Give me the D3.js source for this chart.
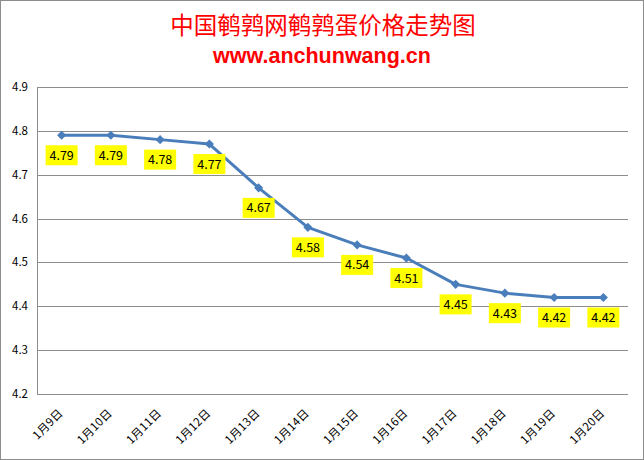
<!DOCTYPE html>
<html>
<head>
<meta charset="utf-8">
<script src="https://cdn.jsdelivr.net/npm/d3@7"></script>
<style>
  body { margin: 0; background: #fff; }
  #canvas { width: 644px; height: 460px; }
</style>
</head>
<body>
<div id="canvas"></div>
<script>
var dates = ["1月9日", "1月10日", "1月11日", "1月12日", "1月13日", "1月14日",
	"1月15日", "1月16日", "1月17日", "1月18日", "1月19日", "1月20日"];
var prices = [4.79, 4.79, 4.78, 4.77, 4.67, 4.58, 4.54, 4.51, 4.45, 4.43, 4.42, 4.42];
var yTicks = [4.2, 4.3, 4.4, 4.5, 4.6, 4.7, 4.8, 4.9];

var W = 644, H = 460;
var plotL = 37, plotR = 628, plotT = 87, plotB = 394;
var font = "'Noto Sans CJK SC', 'Liberation Sans', sans-serif";

var svg = d3.select("#canvas").append("svg")
	.attr("width", W)
	.attr("height", H);

// outer frame
svg.append("rect")
	.attr("x", 0.5).attr("y", 0.5)
	.attr("width", W - 1).attr("height", H - 1)
	.attr("fill", "#fff")
	.attr("stroke", "#8c8c8c");

svg.append("text")
	.attr("x", 323).attr("y", 34)
	.attr("text-anchor", "middle")
	.attr("font-family", "'Noto Sans CJK SC', sans-serif")
	.attr("font-size", 23.5)
	.attr("fill", "#ff0000")
	.text("中国鹌鹑网鹌鹑蛋价格走势图");

svg.append("text")
	.attr("x", 322).attr("y", 63)
	.attr("text-anchor", "middle")
	.attr("font-family", "'Liberation Sans', sans-serif")
	.attr("font-weight", "bold")
	.attr("font-size", 21.5)
	.attr("fill", "#ff0000")
	.text("www.anchunwang.cn");

var x = d3.scaleBand().domain(dates).range([plotL, plotR]);
var y = d3.scaleLinear().domain([4.2, 4.9]).range([plotB, plotT]);

// gridlines
svg.selectAll("line.grid").data(yTicks)
	.enter().append("line")
	.attr("class", "grid")
	.attr("x1", plotL).attr("x2", plotR)
	.attr("y1", function(d){ return Math.round(y(d)) + 0.5; })
	.attr("y2", function(d){ return Math.round(y(d)) + 0.5; })
	.attr("stroke", "#8c8c8c")
	.attr("stroke-width", 1);

svg.append("line")
	.attr("x1", plotL + 0.5).attr("x2", plotL + 0.5)
	.attr("y1", plotT).attr("y2", plotB)
	.attr("stroke", "#8c8c8c");

// y tick labels
svg.selectAll("text.ytick").data(yTicks)
	.enter().append("text")
	.attr("class", "ytick")
	.attr("x", 28)
	.attr("y", function(d){ return y(d) + 4; })
	.attr("text-anchor", "end")
	.attr("font-family", font)
	.attr("font-size", 11.5)
	.attr("fill", "#000")
	.text(function(d){ return d.toFixed(1); });

// x tick labels, rotated
svg.selectAll("text.xtick").data(dates)
	.enter().append("text")
	.attr("class", "xtick")
	.attr("transform", function(d){
		var cx = x(d) + x.bandwidth() / 2 + 2;
		return "translate(" + cx + "," + 414 + ") rotate(-45)";
	})
	.attr("text-anchor", "end")
	.attr("font-family", font)
	.attr("font-size", 11.5)
	.attr("letter-spacing", 0.3)
	.attr("fill", "#000")
	.text(function(d){ return d; });

var px = function(d, i){ return x(dates[i]) + x.bandwidth() / 2; };

var line = d3.line()
	.x(function(d, i){ return px(d, i); })
	.y(function(d){ return y(d); });

svg.append("path")
	.datum(prices)
	.attr("d", line)
	.attr("fill", "none")
	.attr("stroke", "#4a7ebb")
	.attr("stroke-width", 3)
	.attr("stroke-linejoin", "round");

svg.selectAll("path.marker").data(prices)
	.enter().append("path")
	.attr("class", "marker")
	.attr("d", d3.symbol().type(d3.symbolSquare).size(42))
	.attr("transform", function(d, i){ return "translate(" + px(d, i) + "," + y(d) + ") rotate(45)"; })
	.attr("fill", "#4a7ebb");

// data labels
var labels = svg.selectAll("g.lbl").data(prices)
	.enter().append("g")
	.attr("class", "lbl")
	.attr("transform", function(d, i){ return "translate(" + px(d, i) + "," + (y(d) + 20) + ")"; });

labels.append("rect")
	.attr("x", -16).attr("y", -10)
	.attr("width", 32).attr("height", 20)
	.attr("fill", "#ffff00");

labels.append("text")
	.attr("y", 4.5)
	.attr("text-anchor", "middle")
	.attr("font-family", font)
	.attr("font-size", 12.5)
	.attr("fill", "#000")
	.text(function(d){ return d.toFixed(2); });
</script>
</body>
</html>
